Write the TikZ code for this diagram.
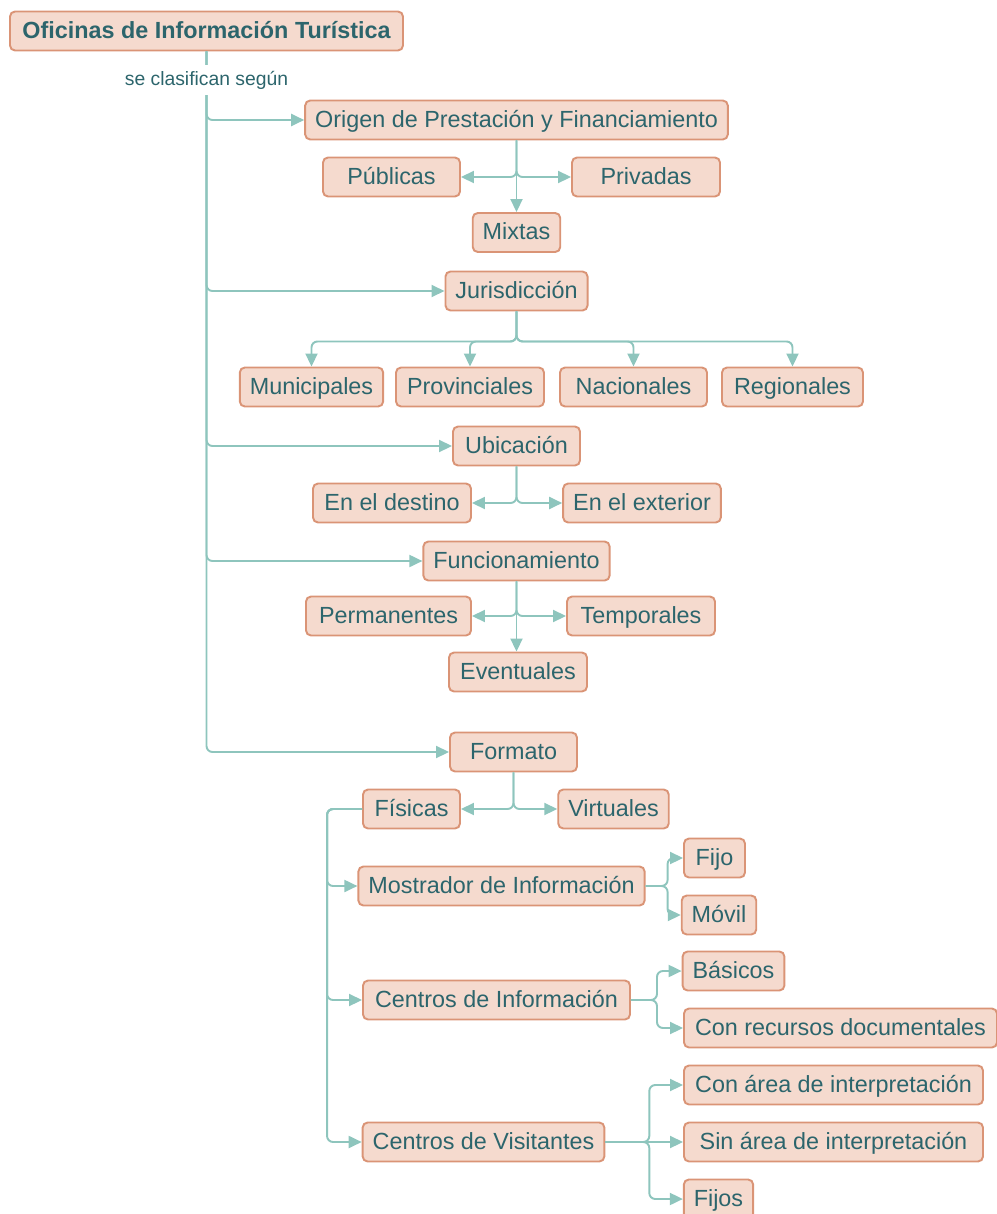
\documentclass[tikz,border=0pt]{standalone}
\usepackage{fontspec}
\setmainfont{Liberation Sans}
\usetikzlibrary{arrows.meta}
\definecolor{boxfill}{RGB}{245,218,206}
\definecolor{boxline}{RGB}{218,148,118}
\definecolor{boxtext}{RGB}{44,101,108}
\definecolor{linkcol}{RGB}{142,197,189}
\tikzset{
  box/.style={draw=boxline, fill=boxfill, text=boxtext, line width=1.1pt,
    rounded corners=0.1cm, minimum height=0.78cm, inner xsep=0.2cm, inner ysep=0pt,
    text height=2.1ex, text depth=0.55ex, font=\fontsize{13.3}{15}\selectfont},
  bw/.style={minimum width=#1*0.02cm},
  link/.style={draw=linkcol, line width=1.1pt, rounded corners=0.12cm,
    -{Triangle[length=0.26cm,width=0.24cm]}},
}
\begin{document}
\begin{tikzpicture}[x=0.02cm, y=-0.02cm]
  \useasboundingbox (0,0) rectangle (997,1214);

  % root and first level
  \node[box, bw=393, font=\fontsize{13.3}{15}\selectfont\bfseries] (oficinas) at (206.5,31) {Oficinas de Información Turística};
  \node[box, bw=419] (origen) at (516.5,120) {Origen de Prestación y Financiamiento};
  \node[box, bw=141] (juris) at (516.5,291) {Jurisdicción};
  \node[box, bw=127] (ubic) at (516.5,446) {Ubicación};
  \node[box, bw=181] (funcion) at (516.5,561) {Funcionamiento};
  \node[box, bw=127] (formato) at (513.5,752) {Formato};

  % origen
  \node[box, bw=137] (publicas) at (391.5,177) {Públicas};
  \node[box, bw=148] (privadas) at (646,177) {Privadas};
  \node[box, bw=86] (mixtas) at (516.5,232.5) {Mixtas};

  % jurisdiccion
  \node[box, bw=143] (municip) at (311.5,387) {Municipales};
  \node[box, bw=148] (provin) at (470,387) {Provinciales};
  \node[box, bw=147] (nacion) at (633.5,387) {Nacionales};
  \node[box, bw=141] (region) at (792.5,387) {Regionales};

  % ubicacion
  \node[box, bw=158] (destino) at (392,503) {En el destino};
  \node[box, bw=156] (exterior) at (642,503) {En el exterior};

  % funcionamiento
  \node[box, bw=165] (perman) at (388.5,616) {Permanentes};
  \node[box, bw=148] (tempor) at (641,616) {Temporales};
  \node[box, bw=138] (eventual) at (518,672) {Eventuales};

  % formato
  \node[box, bw=97] (fisicas) at (411.5,809) {Físicas};
  \node[box, bw=107] (virtual) at (613.5,809) {Virtuales};
  \node[box, bw=277] (mostrador) at (501.5,886) {Mostrador de Información};
  \node[box, bw=267] (centinf) at (496.5,1000) {Centros de Información};
  \node[box, bw=241] (centvis) at (483.5,1142) {Centros de Visitantes};
  \node[box, bw=61] (fijo) at (714.5,858) {Fijo};
  \node[box, bw=70] (movil) at (719,915) {Móvil};
  \node[box, bw=99] (basicos) at (733.5,971) {Básicos};
  \node[box, bw=313] (recursos) at (840.5,1028) {Con recursos documentales};
  \node[box, bw=299] (conarea) at (833.5,1085) {Con área de interpretación};
  \node[box, bw=299] (sinarea) at (833.5,1142) {Sin área de interpretación};
  \node[box, bw=69] (fijos) at (718.5,1199) {Fijos};

  % trunk
  \draw[link] (oficinas.south) |- (origen.west);
  \draw[link] (oficinas.south) |- (juris.west);
  \draw[link] (oficinas.south) |- (ubic.west);
  \draw[link] (oficinas.south) |- (funcion.west);
  \draw[link] (oficinas.south) |- (formato.west);
  \node[fill=white, text=boxtext, font=\fontsize{11}{13}\selectfont, inner xsep=2pt] (segun) at (206.5,80) {se clasifican según};

  \draw[link] (origen.south) |- (publicas.east);
  \draw[link] (origen.south) |- (privadas.west);
  \draw[link] (origen.south) -- (mixtas.north);

  \draw[link] (juris.south) -- ++(0,30) -| (municip.north);
  \draw[link] (juris.south) -- ++(0,30) -| (provin.north);
  \draw[link] (juris.south) -- ++(0,30) -| (nacion.north);
  \draw[link] (juris.south) -- ++(0,30) -| (region.north);

  \draw[link] (ubic.south) |- (destino.east);
  \draw[link] (ubic.south) |- (exterior.west);

  \draw[link] (funcion.south) |- (perman.east);
  \draw[link] (funcion.south) |- (tempor.west);
  \draw[link] (funcion.south) -- (funcion.south |- eventual.north);

  \draw[link] (formato.south) |- (fisicas.east);
  \draw[link] (formato.south) |- (virtual.west);

  \draw[link] (fisicas.west) -- ++(-35,0) |- (mostrador.west);
  \draw[link] (fisicas.west) -- ++(-35,0) |- (centinf.west);
  \draw[link] (fisicas.west) -- ++(-35,0) |- (centvis.west);

  \draw[link] (mostrador.east) -- ++(22,0) |- (fijo.west);
  \draw[link] (mostrador.east) -- ++(22,0) |- (movil.west);
  \draw[link] (centinf.east) -- ++(26,0) |- (basicos.west);
  \draw[link] (centinf.east) -- ++(26,0) |- (recursos.west);
  \draw[link] (centvis.east) -- ++(44,0) |- (conarea.west);
  \draw[link] (centvis.east) -- (sinarea.west);
  \draw[link] (centvis.east) -- ++(44,0) |- (fijos.west);
\end{tikzpicture}
\end{document}
